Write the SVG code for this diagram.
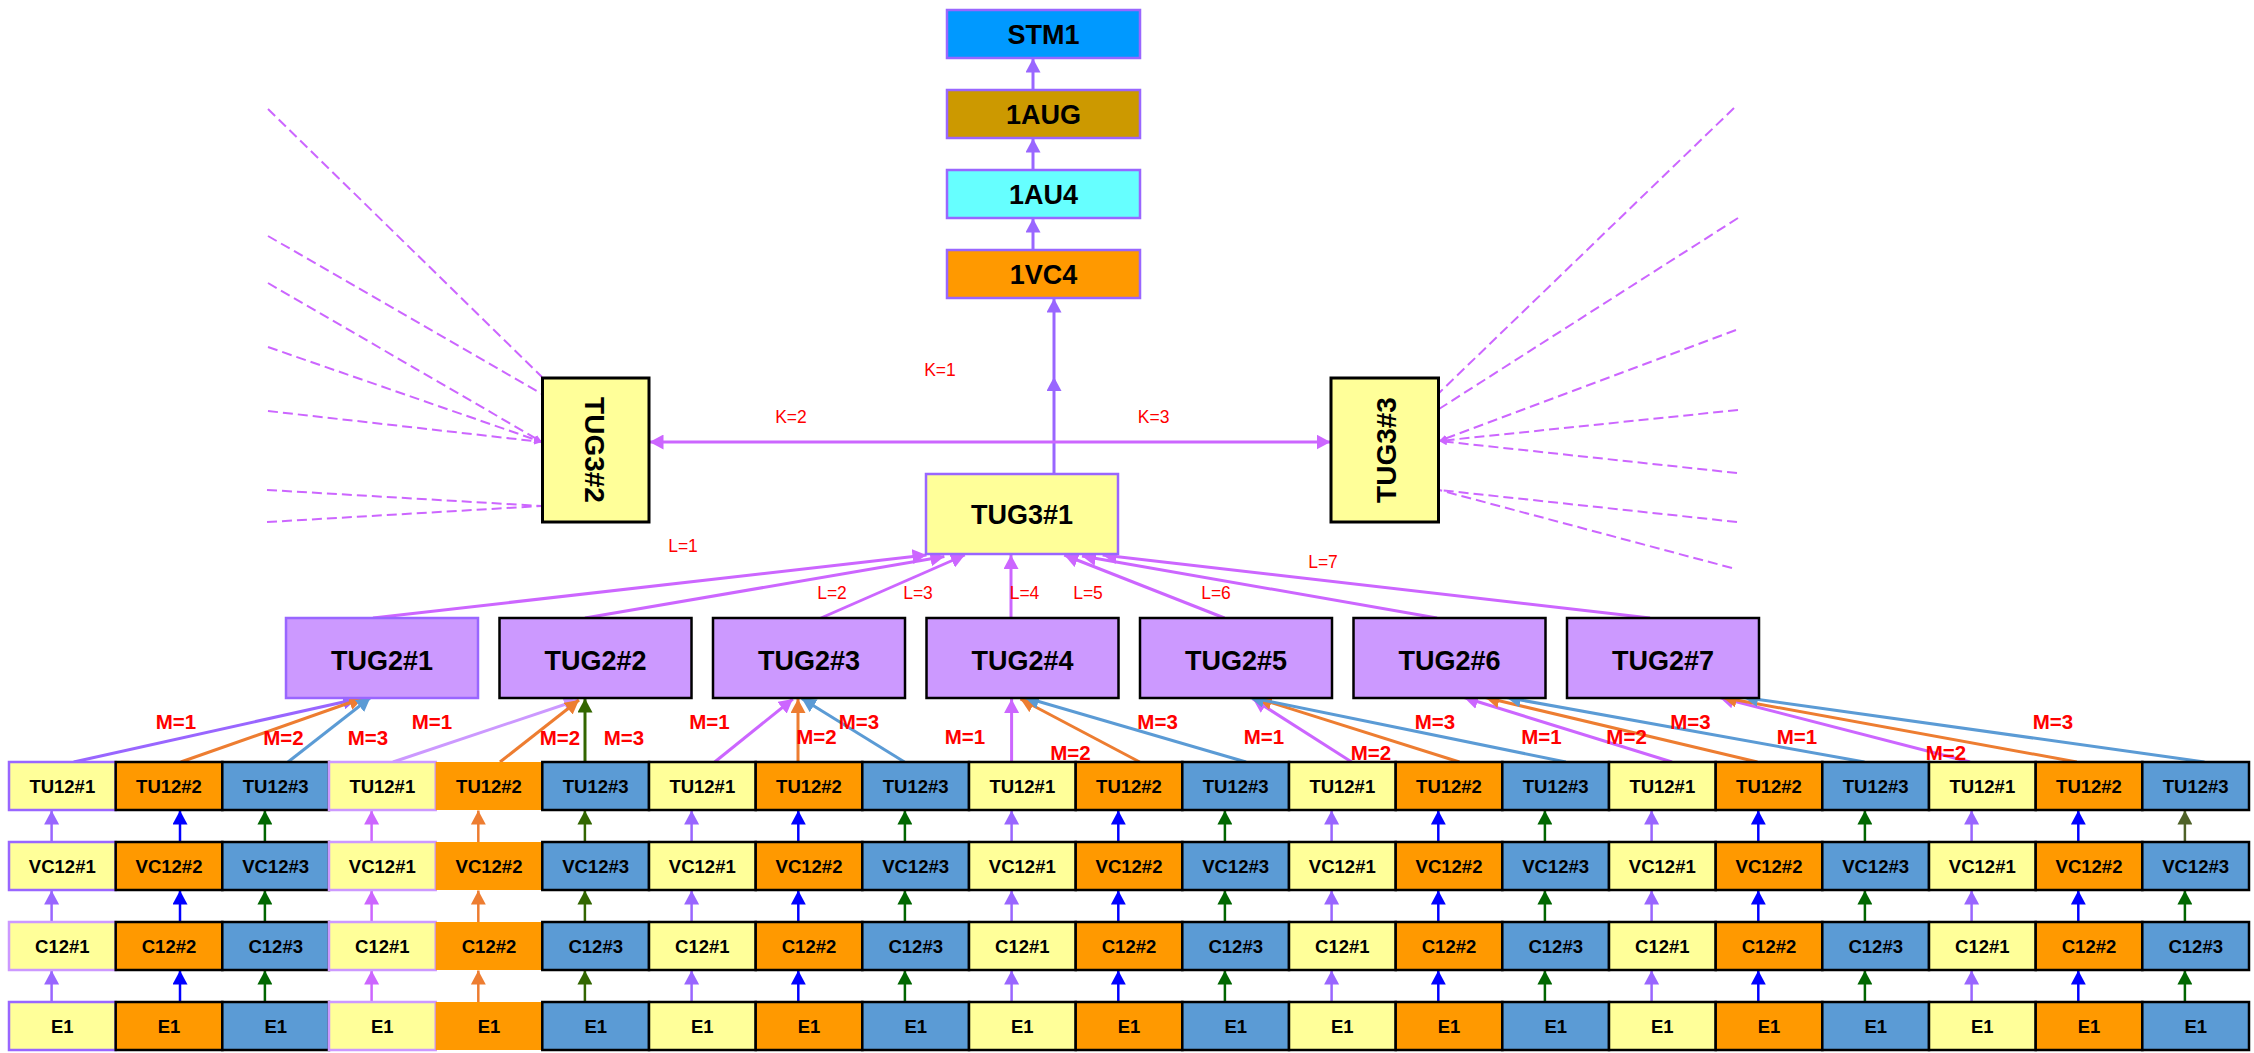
<svg xmlns="http://www.w3.org/2000/svg" width="2254" height="1053" viewBox="0 0 2254 1053">
<style>
text{font-family:"Liberation Sans",Arial,sans-serif;text-anchor:middle}
.tb{font-weight:bold;font-size:27px;fill:#000}
.t3{font-weight:bold;font-size:28px;fill:#000}
.tc{font-weight:bold;font-size:18.5px;fill:#000}
.lm{font-weight:bold;font-size:20.5px;fill:#ff0000}
.ll{font-size:17.5px;fill:#ff0000}
.lk{font-size:17.5px;fill:#ff0000}
.y{fill:#ffff99}.o{fill:#ff9900}.b{fill:#5b9bd5}
.k{stroke:#000;stroke-width:2.5}
.pv{stroke:#9966ff;stroke-width:2.5}
.lv{stroke:#cc99ff;stroke-width:2.5}
.ns{stroke:none}
.top{stroke:#9966ff;stroke-width:2.5}
line{fill:none}
.g{stroke-width:2.5}
.c{stroke-width:3}
.aP{stroke:#9966ff;marker-end:url(#mP)}
.aM{stroke:#cc66ff;marker-end:url(#mM)}
.aL{stroke:#cc99ff;marker-end:url(#mL)}
.aO{stroke:#ed7d31;marker-end:url(#mO)}
.aB{stroke:#5b9bd5;marker-end:url(#mB)}
.aBB{stroke:#0000ff;marker-end:url(#mBB)}
.aG{stroke:#006600;marker-end:url(#mG)}
.aOl{stroke:#336600;marker-end:url(#mOl)}
.aOl2{stroke:#4f6228;marker-end:url(#mOl2)}
.d{stroke:#cc66ff;stroke-width:2;stroke-dasharray:10 5}
.ds{marker-end:url(#mS)}
</style>
<defs>
<marker id="mP" viewBox="0 0 14 15" refX="14" refY="7.5" markerWidth="14" markerHeight="15" markerUnits="userSpaceOnUse" orient="auto"><path d="M0,0L14,7.5L0,15z" fill="#9966ff"/></marker>
<marker id="mM" viewBox="0 0 14 15" refX="14" refY="7.5" markerWidth="14" markerHeight="15" markerUnits="userSpaceOnUse" orient="auto"><path d="M0,0L14,7.5L0,15z" fill="#cc66ff"/></marker>
<marker id="mL" viewBox="0 0 14 15" refX="14" refY="7.5" markerWidth="14" markerHeight="15" markerUnits="userSpaceOnUse" orient="auto"><path d="M0,0L14,7.5L0,15z" fill="#cc99ff"/></marker>
<marker id="mO" viewBox="0 0 14 15" refX="14" refY="7.5" markerWidth="14" markerHeight="15" markerUnits="userSpaceOnUse" orient="auto"><path d="M0,0L14,7.5L0,15z" fill="#ed7d31"/></marker>
<marker id="mB" viewBox="0 0 14 15" refX="14" refY="7.5" markerWidth="14" markerHeight="15" markerUnits="userSpaceOnUse" orient="auto"><path d="M0,0L14,7.5L0,15z" fill="#5b9bd5"/></marker>
<marker id="mBB" viewBox="0 0 14 15" refX="14" refY="7.5" markerWidth="14" markerHeight="15" markerUnits="userSpaceOnUse" orient="auto"><path d="M0,0L14,7.5L0,15z" fill="#0000ff"/></marker>
<marker id="mG" viewBox="0 0 14 15" refX="14" refY="7.5" markerWidth="14" markerHeight="15" markerUnits="userSpaceOnUse" orient="auto"><path d="M0,0L14,7.5L0,15z" fill="#006600"/></marker>
<marker id="mOl" viewBox="0 0 14 15" refX="14" refY="7.5" markerWidth="14" markerHeight="15" markerUnits="userSpaceOnUse" orient="auto"><path d="M0,0L14,7.5L0,15z" fill="#336600"/></marker>
<marker id="mOl2" viewBox="0 0 14 15" refX="14" refY="7.5" markerWidth="14" markerHeight="15" markerUnits="userSpaceOnUse" orient="auto"><path d="M0,0L14,7.5L0,15z" fill="#4f6228"/></marker>
<marker id="mS" viewBox="0 0 8 7" refX="8" refY="3.5" markerWidth="8" markerHeight="7" markerUnits="userSpaceOnUse" orient="auto"><path d="M0,0L8,3.5L0,7z" fill="#cc66ff"/></marker>
</defs>
<rect width="2254" height="1053" fill="#ffffff"/>

<g id="connectors">
<line class="c aP" x1="1033" y1="90" x2="1033" y2="58.5"/>
<line class="c aP" x1="1033" y1="170" x2="1033" y2="138.5"/>
<line class="c aP" x1="1033" y1="250" x2="1033" y2="218.5"/>
<line class="c aP" x1="1054" y1="474" x2="1054" y2="377"/>
<line class="c aP" x1="1054" y1="377" x2="1054" y2="298.5"/>
<line class="c aM" x1="1054" y1="442" x2="649.5" y2="442"/>
<line class="c aM" x1="1054" y1="442" x2="1330.5" y2="442"/>

<line class="d" x1="268" y1="109" x2="542" y2="377"/>
<line class="d" x1="268" y1="236" x2="542" y2="394"/>
<line class="d ds" x1="268" y1="283" x2="542" y2="442"/>
<line class="d ds" x1="268" y1="347" x2="542" y2="442"/>
<line class="d ds" x1="268" y1="411" x2="542" y2="442"/>
<line class="d" x1="267" y1="490" x2="542" y2="506"/>
<line class="d" x1="267" y1="522" x2="542" y2="506"/>
<line class="d" x1="1734" y1="108" x2="1439" y2="393"/>
<line class="d" x1="1738" y1="218" x2="1439" y2="409"/>
<line class="d ds" x1="1736" y1="330" x2="1439" y2="441"/>
<line class="d ds" x1="1738" y1="410" x2="1439" y2="441"/>
<line class="d ds" x1="1737" y1="473" x2="1439" y2="441"/>
<line class="d" x1="1737" y1="522" x2="1439" y2="490"/>
<line class="d" x1="1732" y1="568" x2="1439" y2="490"/>

<line class="c aM" x1="373" y1="618" x2="926.5" y2="555"/>
<line class="c aM" x1="585" y1="618" x2="944.4" y2="556.5"/>
<line class="c aM" x1="821" y1="618" x2="964.8" y2="555"/>
<line class="c aM" x1="1011" y1="618" x2="1011" y2="555"/>
<line class="c aM" x1="1224.5" y1="618" x2="1064.3" y2="555"/>
<line class="c aM" x1="1437" y1="618" x2="1082" y2="556"/>
<line class="c aM" x1="1650" y1="618" x2="1102.6" y2="555"/>

<line class="c aP" x1="73.7" y1="762" x2="357" y2="699"/>
<line class="c aO" x1="180.8" y1="762" x2="363" y2="698"/>
<line class="c aB" x1="288" y1="762" x2="370.5" y2="697.5"/>
<line class="c aL" x1="393" y1="762" x2="578" y2="700"/>
<line class="c aO" x1="500" y1="762" x2="579" y2="700"/>
<line class="c aOl" x1="585" y1="762" x2="585" y2="698.5"/>
<line class="c aM" x1="714.7" y1="762" x2="792.9" y2="699"/>
<line class="c aO" x1="798" y1="762" x2="798" y2="699"/>
<line class="c aB" x1="904.5" y1="762" x2="801.8" y2="698.5"/>
<line class="c aM" x1="1011.6" y1="762" x2="1011.6" y2="699"/>
<line class="c aO" x1="1139.7" y1="762" x2="1020.5" y2="699"/>
<line class="c aB" x1="1246" y1="762" x2="1025" y2="697.5"/>
<line class="c aM" x1="1351.7" y1="762" x2="1253" y2="699"/>
<line class="c aO" x1="1459.4" y1="762" x2="1258" y2="698.5"/>
<line class="c aB" x1="1565.8" y1="762" x2="1250" y2="697.5"/>
<line class="c aM" x1="1672" y1="762" x2="1464.2" y2="697.5"/>
<line class="c aO" x1="1757.4" y1="762" x2="1485.5" y2="697.5"/>
<line class="c aB" x1="1864.5" y1="762" x2="1506.8" y2="697.5"/>
<line class="c aM" x1="1970" y1="762" x2="1719.7" y2="697.5"/>
<line class="c aO" x1="2076.8" y1="762" x2="1722.7" y2="697.5"/>
<line class="c aB" x1="2204.5" y1="762" x2="1744" y2="697.5"/>

<g id="row-arrows">
<line class="g aP" x1="51.6" y1="842" x2="51.6" y2="810.5"/><line class="g aP" x1="51.6" y1="922" x2="51.6" y2="890.5"/><line class="g aP" x1="51.6" y1="1002" x2="51.6" y2="970.5"/>
<line class="g aBB" x1="180" y1="842" x2="180" y2="810.5"/><line class="g aBB" x1="180" y1="922" x2="180" y2="890.5"/><line class="g aBB" x1="180" y1="1002" x2="180" y2="970.5"/>
<line class="g aG" x1="264.9" y1="842" x2="264.9" y2="810.5"/><line class="g aG" x1="264.9" y1="922" x2="264.9" y2="890.5"/><line class="g aG" x1="264.9" y1="1002" x2="264.9" y2="970.5"/>
<line class="g aM" x1="371.6" y1="842" x2="371.6" y2="810.5"/><line class="g aM" x1="371.6" y1="922" x2="371.6" y2="890.5"/><line class="g aM" x1="371.6" y1="1002" x2="371.6" y2="970.5"/>
<line class="g aO" x1="478.3" y1="842" x2="478.3" y2="810.5"/><line class="g aO" x1="478.3" y1="922" x2="478.3" y2="890.5"/><line class="g aO" x1="478.3" y1="1002" x2="478.3" y2="970.5"/>
<line class="g aOl" x1="584.9" y1="842" x2="584.9" y2="810.5"/><line class="g aOl" x1="584.9" y1="922" x2="584.9" y2="890.5"/><line class="g aOl" x1="584.9" y1="1002" x2="584.9" y2="970.5"/>
<line class="g aP" x1="691.6" y1="842" x2="691.6" y2="810.5"/><line class="g aP" x1="691.6" y1="922" x2="691.6" y2="890.5"/><line class="g aP" x1="691.6" y1="1002" x2="691.6" y2="970.5"/>
<line class="g aBB" x1="798.3" y1="842" x2="798.3" y2="810.5"/><line class="g aBB" x1="798.3" y1="922" x2="798.3" y2="890.5"/><line class="g aBB" x1="798.3" y1="1002" x2="798.3" y2="970.5"/>
<line class="g aG" x1="904.9" y1="842" x2="904.9" y2="810.5"/><line class="g aG" x1="904.9" y1="922" x2="904.9" y2="890.5"/><line class="g aG" x1="904.9" y1="1002" x2="904.9" y2="970.5"/>
<line class="g aP" x1="1011.6" y1="842" x2="1011.6" y2="810.5"/><line class="g aP" x1="1011.6" y1="922" x2="1011.6" y2="890.5"/><line class="g aP" x1="1011.6" y1="1002" x2="1011.6" y2="970.5"/>
<line class="g aBB" x1="1118.3" y1="842" x2="1118.3" y2="810.5"/><line class="g aBB" x1="1118.3" y1="922" x2="1118.3" y2="890.5"/><line class="g aBB" x1="1118.3" y1="1002" x2="1118.3" y2="970.5"/>
<line class="g aG" x1="1224.9" y1="842" x2="1224.9" y2="810.5"/><line class="g aG" x1="1224.9" y1="922" x2="1224.9" y2="890.5"/><line class="g aG" x1="1224.9" y1="1002" x2="1224.9" y2="970.5"/>
<line class="g aP" x1="1331.6" y1="842" x2="1331.6" y2="810.5"/><line class="g aP" x1="1331.6" y1="922" x2="1331.6" y2="890.5"/><line class="g aP" x1="1331.6" y1="1002" x2="1331.6" y2="970.5"/>
<line class="g aBB" x1="1438.3" y1="842" x2="1438.3" y2="810.5"/><line class="g aBB" x1="1438.3" y1="922" x2="1438.3" y2="890.5"/><line class="g aBB" x1="1438.3" y1="1002" x2="1438.3" y2="970.5"/>
<line class="g aG" x1="1544.9" y1="842" x2="1544.9" y2="810.5"/><line class="g aG" x1="1544.9" y1="922" x2="1544.9" y2="890.5"/><line class="g aG" x1="1544.9" y1="1002" x2="1544.9" y2="970.5"/>
<line class="g aP" x1="1651.6" y1="842" x2="1651.6" y2="810.5"/><line class="g aP" x1="1651.6" y1="922" x2="1651.6" y2="890.5"/><line class="g aP" x1="1651.6" y1="1002" x2="1651.6" y2="970.5"/>
<line class="g aBB" x1="1758.3" y1="842" x2="1758.3" y2="810.5"/><line class="g aBB" x1="1758.3" y1="922" x2="1758.3" y2="890.5"/><line class="g aBB" x1="1758.3" y1="1002" x2="1758.3" y2="970.5"/>
<line class="g aG" x1="1864.9" y1="842" x2="1864.9" y2="810.5"/><line class="g aG" x1="1864.9" y1="922" x2="1864.9" y2="890.5"/><line class="g aG" x1="1864.9" y1="1002" x2="1864.9" y2="970.5"/>
<line class="g aP" x1="1971.6" y1="842" x2="1971.6" y2="810.5"/><line class="g aP" x1="1971.6" y1="922" x2="1971.6" y2="890.5"/><line class="g aP" x1="1971.6" y1="1002" x2="1971.6" y2="970.5"/>
<line class="g aBB" x1="2078.3" y1="842" x2="2078.3" y2="810.5"/><line class="g aBB" x1="2078.3" y1="922" x2="2078.3" y2="890.5"/><line class="g aBB" x1="2078.3" y1="1002" x2="2078.3" y2="970.5"/>
<line class="g aOl2" x1="2184.9" y1="842" x2="2184.9" y2="810.5"/><line class="g aG" x1="2184.9" y1="922" x2="2184.9" y2="890.5"/><line class="g aG" x1="2184.9" y1="1002" x2="2184.9" y2="970.5"/>
</g>
</g>

<g id="labels">
<text class="lk" x="940" y="376">K=1</text>
<text class="lk" x="791" y="423">K=2</text>
<text class="lk" x="1153.6" y="423">K=3</text>
<text class="ll" x="683" y="552">L=1</text>
<text class="ll" x="832" y="599">L=2</text>
<text class="ll" x="918" y="599">L=3</text>
<text class="ll" x="1024.5" y="599">L=4</text>
<text class="ll" x="1088" y="599">L=5</text>
<text class="ll" x="1216" y="599">L=6</text>
<text class="ll" x="1323" y="568">L=7</text>
<text class="lm" x="176" y="729">M=1</text>
<text class="lm" x="283.5" y="745">M=2</text>
<text class="lm" x="368" y="745">M=3</text>
<text class="lm" x="432" y="729">M=1</text>
<text class="lm" x="560" y="745">M=2</text>
<text class="lm" x="624" y="745">M=3</text>
<text class="lm" x="709.4" y="729">M=1</text>
<text class="lm" x="816.5" y="744">M=2</text>
<text class="lm" x="859" y="729">M=3</text>
<text class="lm" x="965" y="744">M=1</text>
<text class="lm" x="1070.5" y="760">M=2</text>
<text class="lm" x="1157.6" y="729">M=3</text>
<text class="lm" x="1264" y="744">M=1</text>
<text class="lm" x="1371" y="760">M=2</text>
<text class="lm" x="1435" y="729">M=3</text>
<text class="lm" x="1541.5" y="744">M=1</text>
<text class="lm" x="1626.6" y="744">M=2</text>
<text class="lm" x="1690.5" y="729">M=3</text>
<text class="lm" x="1797" y="744">M=1</text>
<text class="lm" x="1946" y="760">M=2</text>
<text class="lm" x="2053" y="729">M=3</text>
</g>

<g id="nodes">
<g id="stm1"><rect x="947" y="10" width="193" height="48" fill="#0099ff" class="top"/><text class="tb" x="1043.5" y="43.7">STM1</text></g>
<g id="aug"><rect x="947" y="90" width="193" height="48" fill="#cc9900" class="top"/><text class="tb" x="1043.5" y="123.7">1AUG</text></g>
<g id="au4"><rect x="947" y="170" width="193" height="48" fill="#66ffff" class="top"/><text class="tb" x="1043.5" y="203.7">1AU4</text></g>
<g id="vc4"><rect x="947" y="250" width="193" height="48" fill="#ff9900" class="top"/><text class="tb" x="1043.5" y="283.7">1VC4</text></g>
<g id="tug3-1"><rect x="926" y="474" width="192" height="80" fill="#ffff99" stroke="#9966ff" stroke-width="2.5"/><text class="tb" x="1022" y="523.7">TUG3#1</text></g>
<g id="tug3-2"><rect x="542.5" y="378" width="106.5" height="144" fill="#ffff99" stroke="#000" stroke-width="3"/><text class="t3" transform="translate(594.5,450) rotate(90)" x="0" y="10">TUG3#2</text></g>
<g id="tug3-3"><rect x="1331" y="378" width="107.5" height="144" fill="#ffff99" stroke="#000" stroke-width="3"/><text class="t3" transform="translate(1385.7,450) rotate(-90)" x="0" y="10">TUG3#3</text></g>

<g id="tug2-1"><rect x="286" y="618" width="192" height="80" fill="#cc99ff" stroke="#9966ff" stroke-width="2.5"/><text class="tb" x="382" y="669.7">TUG2#1</text></g>
<g id="tug2-2"><rect x="499.5" y="618" width="192" height="80" fill="#cc99ff" stroke="#000" stroke-width="2.5"/><text class="tb" x="595.5" y="669.7">TUG2#2</text></g>
<g id="tug2-3"><rect x="713" y="618" width="192" height="80" fill="#cc99ff" stroke="#000" stroke-width="2.5"/><text class="tb" x="809" y="669.7">TUG2#3</text></g>
<g id="tug2-4"><rect x="926.5" y="618" width="192" height="80" fill="#cc99ff" stroke="#000" stroke-width="2.5"/><text class="tb" x="1022.5" y="669.7">TUG2#4</text></g>
<g id="tug2-5"><rect x="1140" y="618" width="192" height="80" fill="#cc99ff" stroke="#000" stroke-width="2.5"/><text class="tb" x="1236" y="669.7">TUG2#5</text></g>
<g id="tug2-6"><rect x="1353.5" y="618" width="192" height="80" fill="#cc99ff" stroke="#000" stroke-width="2.5"/><text class="tb" x="1449.5" y="669.7">TUG2#6</text></g>
<g id="tug2-7"><rect x="1567" y="618" width="192" height="80" fill="#cc99ff" stroke="#000" stroke-width="2.5"/><text class="tb" x="1663" y="669.7">TUG2#7</text></g>

<g id="tu12-row">
<g id="tu12-1-1"><rect class="y pv" x="9" y="762" width="106.7" height="48"/><text class="tc" x="62.3" y="793">TU12#1</text></g>
<g id="tu12-1-2"><rect class="o k" x="115.7" y="762" width="106.7" height="48"/><text class="tc" x="169" y="793">TU12#2</text></g>
<g id="tu12-1-3"><rect class="b k" x="222.3" y="762" width="106.7" height="48"/><text class="tc" x="275.7" y="793">TU12#3</text></g>
<g id="tu12-2-1"><rect class="y lv" x="329" y="762" width="106.7" height="48"/><text class="tc" x="382.3" y="793">TU12#1</text></g>
<g id="tu12-2-2"><rect class="o ns" x="435.7" y="762" width="106.7" height="48"/><text class="tc" x="489" y="793">TU12#2</text></g>
<g id="tu12-2-3"><rect class="b k" x="542.3" y="762" width="106.7" height="48"/><text class="tc" x="595.7" y="793">TU12#3</text></g>
<g id="tu12-3-1"><rect class="y k" x="649" y="762" width="106.7" height="48"/><text class="tc" x="702.3" y="793">TU12#1</text></g>
<g id="tu12-3-2"><rect class="o k" x="755.7" y="762" width="106.7" height="48"/><text class="tc" x="809" y="793">TU12#2</text></g>
<g id="tu12-3-3"><rect class="b k" x="862.3" y="762" width="106.7" height="48"/><text class="tc" x="915.7" y="793">TU12#3</text></g>
<g id="tu12-4-1"><rect class="y k" x="969" y="762" width="106.7" height="48"/><text class="tc" x="1022.3" y="793">TU12#1</text></g>
<g id="tu12-4-2"><rect class="o k" x="1075.7" y="762" width="106.7" height="48"/><text class="tc" x="1129" y="793">TU12#2</text></g>
<g id="tu12-4-3"><rect class="b k" x="1182.3" y="762" width="106.7" height="48"/><text class="tc" x="1235.7" y="793">TU12#3</text></g>
<g id="tu12-5-1"><rect class="y k" x="1289" y="762" width="106.7" height="48"/><text class="tc" x="1342.3" y="793">TU12#1</text></g>
<g id="tu12-5-2"><rect class="o k" x="1395.7" y="762" width="106.7" height="48"/><text class="tc" x="1449" y="793">TU12#2</text></g>
<g id="tu12-5-3"><rect class="b k" x="1502.3" y="762" width="106.7" height="48"/><text class="tc" x="1555.7" y="793">TU12#3</text></g>
<g id="tu12-6-1"><rect class="y k" x="1609" y="762" width="106.7" height="48"/><text class="tc" x="1662.3" y="793">TU12#1</text></g>
<g id="tu12-6-2"><rect class="o k" x="1715.7" y="762" width="106.7" height="48"/><text class="tc" x="1769" y="793">TU12#2</text></g>
<g id="tu12-6-3"><rect class="b k" x="1822.3" y="762" width="106.7" height="48"/><text class="tc" x="1875.7" y="793">TU12#3</text></g>
<g id="tu12-7-1"><rect class="y k" x="1929" y="762" width="106.7" height="48"/><text class="tc" x="1982.3" y="793">TU12#1</text></g>
<g id="tu12-7-2"><rect class="o k" x="2035.7" y="762" width="106.7" height="48"/><text class="tc" x="2089" y="793">TU12#2</text></g>
<g id="tu12-7-3"><rect class="b k" x="2142.3" y="762" width="106.7" height="48"/><text class="tc" x="2195.7" y="793">TU12#3</text></g>
</g>

<g id="vc12-row">
<g id="vc12-1-1"><rect class="y pv" x="9" y="842" width="106.7" height="48"/><text class="tc" x="62.3" y="873">VC12#1</text></g>
<g id="vc12-1-2"><rect class="o k" x="115.7" y="842" width="106.7" height="48"/><text class="tc" x="169" y="873">VC12#2</text></g>
<g id="vc12-1-3"><rect class="b k" x="222.3" y="842" width="106.7" height="48"/><text class="tc" x="275.7" y="873">VC12#3</text></g>
<g id="vc12-2-1"><rect class="y lv" x="329" y="842" width="106.7" height="48"/><text class="tc" x="382.3" y="873">VC12#1</text></g>
<g id="vc12-2-2"><rect class="o ns" x="435.7" y="842" width="106.7" height="48"/><text class="tc" x="489" y="873">VC12#2</text></g>
<g id="vc12-2-3"><rect class="b k" x="542.3" y="842" width="106.7" height="48"/><text class="tc" x="595.7" y="873">VC12#3</text></g>
<g id="vc12-3-1"><rect class="y k" x="649" y="842" width="106.7" height="48"/><text class="tc" x="702.3" y="873">VC12#1</text></g>
<g id="vc12-3-2"><rect class="o k" x="755.7" y="842" width="106.7" height="48"/><text class="tc" x="809" y="873">VC12#2</text></g>
<g id="vc12-3-3"><rect class="b k" x="862.3" y="842" width="106.7" height="48"/><text class="tc" x="915.7" y="873">VC12#3</text></g>
<g id="vc12-4-1"><rect class="y k" x="969" y="842" width="106.7" height="48"/><text class="tc" x="1022.3" y="873">VC12#1</text></g>
<g id="vc12-4-2"><rect class="o k" x="1075.7" y="842" width="106.7" height="48"/><text class="tc" x="1129" y="873">VC12#2</text></g>
<g id="vc12-4-3"><rect class="b k" x="1182.3" y="842" width="106.7" height="48"/><text class="tc" x="1235.7" y="873">VC12#3</text></g>
<g id="vc12-5-1"><rect class="y k" x="1289" y="842" width="106.7" height="48"/><text class="tc" x="1342.3" y="873">VC12#1</text></g>
<g id="vc12-5-2"><rect class="o k" x="1395.7" y="842" width="106.7" height="48"/><text class="tc" x="1449" y="873">VC12#2</text></g>
<g id="vc12-5-3"><rect class="b k" x="1502.3" y="842" width="106.7" height="48"/><text class="tc" x="1555.7" y="873">VC12#3</text></g>
<g id="vc12-6-1"><rect class="y k" x="1609" y="842" width="106.7" height="48"/><text class="tc" x="1662.3" y="873">VC12#1</text></g>
<g id="vc12-6-2"><rect class="o k" x="1715.7" y="842" width="106.7" height="48"/><text class="tc" x="1769" y="873">VC12#2</text></g>
<g id="vc12-6-3"><rect class="b k" x="1822.3" y="842" width="106.7" height="48"/><text class="tc" x="1875.7" y="873">VC12#3</text></g>
<g id="vc12-7-1"><rect class="y k" x="1929" y="842" width="106.7" height="48"/><text class="tc" x="1982.3" y="873">VC12#1</text></g>
<g id="vc12-7-2"><rect class="o k" x="2035.7" y="842" width="106.7" height="48"/><text class="tc" x="2089" y="873">VC12#2</text></g>
<g id="vc12-7-3"><rect class="b k" x="2142.3" y="842" width="106.7" height="48"/><text class="tc" x="2195.7" y="873">VC12#3</text></g>
</g>

<g id="c12-row">
<g id="c12-1-1"><rect class="y lv" x="9" y="922" width="106.7" height="48"/><text class="tc" x="62.3" y="953">C12#1</text></g>
<g id="c12-1-2"><rect class="o k" x="115.7" y="922" width="106.7" height="48"/><text class="tc" x="169" y="953">C12#2</text></g>
<g id="c12-1-3"><rect class="b k" x="222.3" y="922" width="106.7" height="48"/><text class="tc" x="275.7" y="953">C12#3</text></g>
<g id="c12-2-1"><rect class="y lv" x="329" y="922" width="106.7" height="48"/><text class="tc" x="382.3" y="953">C12#1</text></g>
<g id="c12-2-2"><rect class="o ns" x="435.7" y="922" width="106.7" height="48"/><text class="tc" x="489" y="953">C12#2</text></g>
<g id="c12-2-3"><rect class="b k" x="542.3" y="922" width="106.7" height="48"/><text class="tc" x="595.7" y="953">C12#3</text></g>
<g id="c12-3-1"><rect class="y k" x="649" y="922" width="106.7" height="48"/><text class="tc" x="702.3" y="953">C12#1</text></g>
<g id="c12-3-2"><rect class="o k" x="755.7" y="922" width="106.7" height="48"/><text class="tc" x="809" y="953">C12#2</text></g>
<g id="c12-3-3"><rect class="b k" x="862.3" y="922" width="106.7" height="48"/><text class="tc" x="915.7" y="953">C12#3</text></g>
<g id="c12-4-1"><rect class="y k" x="969" y="922" width="106.7" height="48"/><text class="tc" x="1022.3" y="953">C12#1</text></g>
<g id="c12-4-2"><rect class="o k" x="1075.7" y="922" width="106.7" height="48"/><text class="tc" x="1129" y="953">C12#2</text></g>
<g id="c12-4-3"><rect class="b k" x="1182.3" y="922" width="106.7" height="48"/><text class="tc" x="1235.7" y="953">C12#3</text></g>
<g id="c12-5-1"><rect class="y k" x="1289" y="922" width="106.7" height="48"/><text class="tc" x="1342.3" y="953">C12#1</text></g>
<g id="c12-5-2"><rect class="o k" x="1395.7" y="922" width="106.7" height="48"/><text class="tc" x="1449" y="953">C12#2</text></g>
<g id="c12-5-3"><rect class="b k" x="1502.3" y="922" width="106.7" height="48"/><text class="tc" x="1555.7" y="953">C12#3</text></g>
<g id="c12-6-1"><rect class="y k" x="1609" y="922" width="106.7" height="48"/><text class="tc" x="1662.3" y="953">C12#1</text></g>
<g id="c12-6-2"><rect class="o k" x="1715.7" y="922" width="106.7" height="48"/><text class="tc" x="1769" y="953">C12#2</text></g>
<g id="c12-6-3"><rect class="b k" x="1822.3" y="922" width="106.7" height="48"/><text class="tc" x="1875.7" y="953">C12#3</text></g>
<g id="c12-7-1"><rect class="y k" x="1929" y="922" width="106.7" height="48"/><text class="tc" x="1982.3" y="953">C12#1</text></g>
<g id="c12-7-2"><rect class="o k" x="2035.7" y="922" width="106.7" height="48"/><text class="tc" x="2089" y="953">C12#2</text></g>
<g id="c12-7-3"><rect class="b k" x="2142.3" y="922" width="106.7" height="48"/><text class="tc" x="2195.7" y="953">C12#3</text></g>
</g>

<g id="e1-row">
<g id="e1-1-1"><rect class="y pv" x="9" y="1002" width="106.7" height="48"/><text class="tc" x="62.3" y="1033">E1</text></g>
<g id="e1-1-2"><rect class="o k" x="115.7" y="1002" width="106.7" height="48"/><text class="tc" x="169" y="1033">E1</text></g>
<g id="e1-1-3"><rect class="b k" x="222.3" y="1002" width="106.7" height="48"/><text class="tc" x="275.7" y="1033">E1</text></g>
<g id="e1-2-1"><rect class="y lv" x="329" y="1002" width="106.7" height="48"/><text class="tc" x="382.3" y="1033">E1</text></g>
<g id="e1-2-2"><rect class="o ns" x="435.7" y="1002" width="106.7" height="48"/><text class="tc" x="489" y="1033">E1</text></g>
<g id="e1-2-3"><rect class="b k" x="542.3" y="1002" width="106.7" height="48"/><text class="tc" x="595.7" y="1033">E1</text></g>
<g id="e1-3-1"><rect class="y k" x="649" y="1002" width="106.7" height="48"/><text class="tc" x="702.3" y="1033">E1</text></g>
<g id="e1-3-2"><rect class="o k" x="755.7" y="1002" width="106.7" height="48"/><text class="tc" x="809" y="1033">E1</text></g>
<g id="e1-3-3"><rect class="b k" x="862.3" y="1002" width="106.7" height="48"/><text class="tc" x="915.7" y="1033">E1</text></g>
<g id="e1-4-1"><rect class="y k" x="969" y="1002" width="106.7" height="48"/><text class="tc" x="1022.3" y="1033">E1</text></g>
<g id="e1-4-2"><rect class="o k" x="1075.7" y="1002" width="106.7" height="48"/><text class="tc" x="1129" y="1033">E1</text></g>
<g id="e1-4-3"><rect class="b k" x="1182.3" y="1002" width="106.7" height="48"/><text class="tc" x="1235.7" y="1033">E1</text></g>
<g id="e1-5-1"><rect class="y k" x="1289" y="1002" width="106.7" height="48"/><text class="tc" x="1342.3" y="1033">E1</text></g>
<g id="e1-5-2"><rect class="o k" x="1395.7" y="1002" width="106.7" height="48"/><text class="tc" x="1449" y="1033">E1</text></g>
<g id="e1-5-3"><rect class="b k" x="1502.3" y="1002" width="106.7" height="48"/><text class="tc" x="1555.7" y="1033">E1</text></g>
<g id="e1-6-1"><rect class="y k" x="1609" y="1002" width="106.7" height="48"/><text class="tc" x="1662.3" y="1033">E1</text></g>
<g id="e1-6-2"><rect class="o k" x="1715.7" y="1002" width="106.7" height="48"/><text class="tc" x="1769" y="1033">E1</text></g>
<g id="e1-6-3"><rect class="b k" x="1822.3" y="1002" width="106.7" height="48"/><text class="tc" x="1875.7" y="1033">E1</text></g>
<g id="e1-7-1"><rect class="y k" x="1929" y="1002" width="106.7" height="48"/><text class="tc" x="1982.3" y="1033">E1</text></g>
<g id="e1-7-2"><rect class="o k" x="2035.7" y="1002" width="106.7" height="48"/><text class="tc" x="2089" y="1033">E1</text></g>
<g id="e1-7-3"><rect class="b k" x="2142.3" y="1002" width="106.7" height="48"/><text class="tc" x="2195.7" y="1033">E1</text></g>
</g>
</g>
</svg>
